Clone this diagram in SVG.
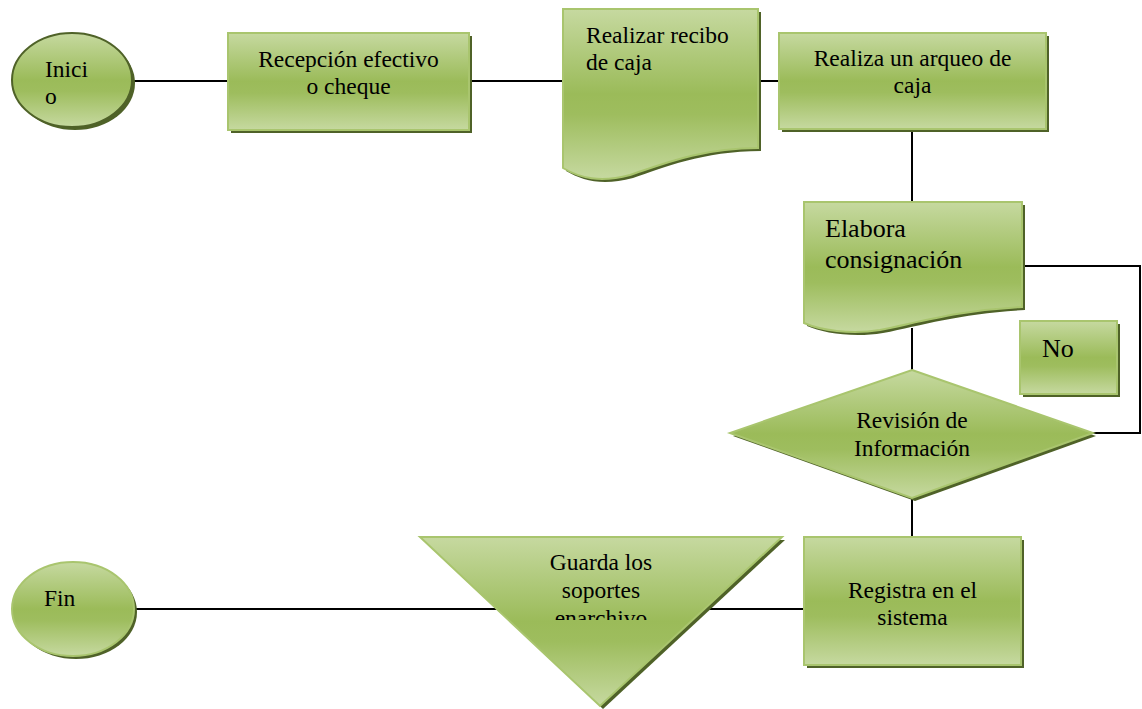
<svg xmlns="http://www.w3.org/2000/svg" width="1142" height="709" viewBox="0 0 1142 709">
<defs>
<linearGradient id="g" x1="0" y1="0" x2="0" y2="1">
<stop offset="0" stop-color="#c6d9a0"/>
<stop offset="0.5" stop-color="#9bbb59"/>
<stop offset="0.62" stop-color="#9ebd5e"/>
<stop offset="1" stop-color="#c6d9a0"/>
</linearGradient>
<clipPath id="clipG"><rect x="400" y="530" width="400" height="90"/></clipPath>
</defs>
<style>
.sh{fill:#4f6228}
.sf{fill:url(#g);stroke:#a9c56e;stroke-width:2}
text{font-family:'Liberation Serif','DejaVu Serif',serif;fill:#000}
.t{font-size:23.5px}
.tl{font-size:26px}
.c{text-anchor:middle}
.ln{fill:none;stroke:#000;stroke-width:2}
</style>
<rect width="1142" height="709" fill="#fff"/>
<g id="connectors">
<line class="ln" x1="133" y1="81" x2="228" y2="81"/>
<line class="ln" x1="469" y1="81" x2="565" y2="81"/>
<line class="ln" x1="758" y1="81" x2="780" y2="81"/>
<line class="ln" x1="912" y1="130" x2="912" y2="202"/>
<line class="ln" x1="912" y1="328" x2="912" y2="371"/>
<polyline class="ln" points="1022,266 1140,266 1140,433 1092,433"/>
<line class="ln" x1="912" y1="498" x2="912" y2="538"/>
<line class="ln" x1="704" y1="609" x2="805" y2="609"/>
<line class="ln" x1="133" y1="609" x2="497" y2="609"/>
</g>
<g id="inicio">
<ellipse class="sh" cx="75" cy="83" rx="60" ry="47"/>
<ellipse cx="72" cy="80" rx="60" ry="47" fill="url(#g)" stroke="#4f6228" stroke-width="2"/>
<text class="t" x="45" y="77">Inici</text>
<text class="t" x="45" y="104">o</text>
</g>
<g id="recepcion">
<rect class="sh" x="231" y="36" width="241" height="97"/>
<rect class="sf" x="228" y="33" width="241" height="97"/>
<text class="t c" x="348.5" y="67">Recepción efectivo</text>
<text class="t c" x="348.5" y="94">o cheque</text>
</g>
<g id="recibo">
<path class="sh" d="M566,12 H761 V151 C703,151 663,168 633,178 C603,186 583,181 566,171 Z"/>
<path class="sf" d="M563,9 H758 V148 C700,148 660,165 630,175 C600,183 580,178 563,168 Z"/>
<text class="t" x="586" y="43">Realizar recibo</text>
<text class="t" x="586" y="70">de caja</text>
</g>
<g id="arqueo">
<rect class="sh" x="782" y="36" width="267" height="96"/>
<rect class="sf" x="779" y="33" width="267" height="96"/>
<text class="t c" x="912.5" y="66">Realiza un arqueo de</text>
<text class="t c" x="912.5" y="93">caja</text>
</g>
<g id="consignacion">
<path class="sh" d="M807,205 H1025 V310 C963,313 923,325 883,333 C853,338 823,333 807,326 Z"/>
<path class="sf" d="M804,202 H1022 V307 C960,310 920,322 880,330 C850,335 820,330 804,323 Z"/>
<text class="tl" x="825" y="237">Elabora</text>
<text class="tl" x="825" y="268">consignación</text>
</g>
<g id="no">
<rect class="sh" x="1023" y="324" width="97" height="73"/>
<rect class="sf" x="1020" y="321" width="97" height="73"/>
<text class="tl" x="1042" y="357">No</text>
</g>
<g id="revision">
<polygon class="sh" points="915,373 1096,436 915,501 733,436"/>
<polygon class="sf" points="912,370 1093,433 912,498 730,433"/>
<text class="t c" x="912" y="428">Revisión de</text>
<text class="t c" x="912" y="456">Información</text>
</g>
<g id="registra">
<rect class="sh" x="807" y="540" width="217" height="128"/>
<rect class="sf" x="804" y="537" width="217" height="128"/>
<text class="t c" x="912.5" y="598">Registra en el</text>
<text class="t c" x="912.5" y="625">sistema</text>
</g>
<g id="guarda">
<polygon class="sh" points="423,540 785,540 603,709"/>
<polygon class="sf" points="420,537 782,537 600,706"/>
<g clip-path="url(#clipG)">
<text class="t c" x="601" y="570">Guarda los</text>
<text class="t c" x="601" y="598">soportes</text>
<text class="t c" x="601" y="626">enarchivo</text>
</g>
</g>
<g id="fin">
<ellipse class="sh" cx="76" cy="612" rx="61" ry="47"/>
<ellipse class="sf" cx="73" cy="609" rx="61" ry="47"/>
<text class="t" x="44" y="606">Fin</text>
</g>
</svg>
